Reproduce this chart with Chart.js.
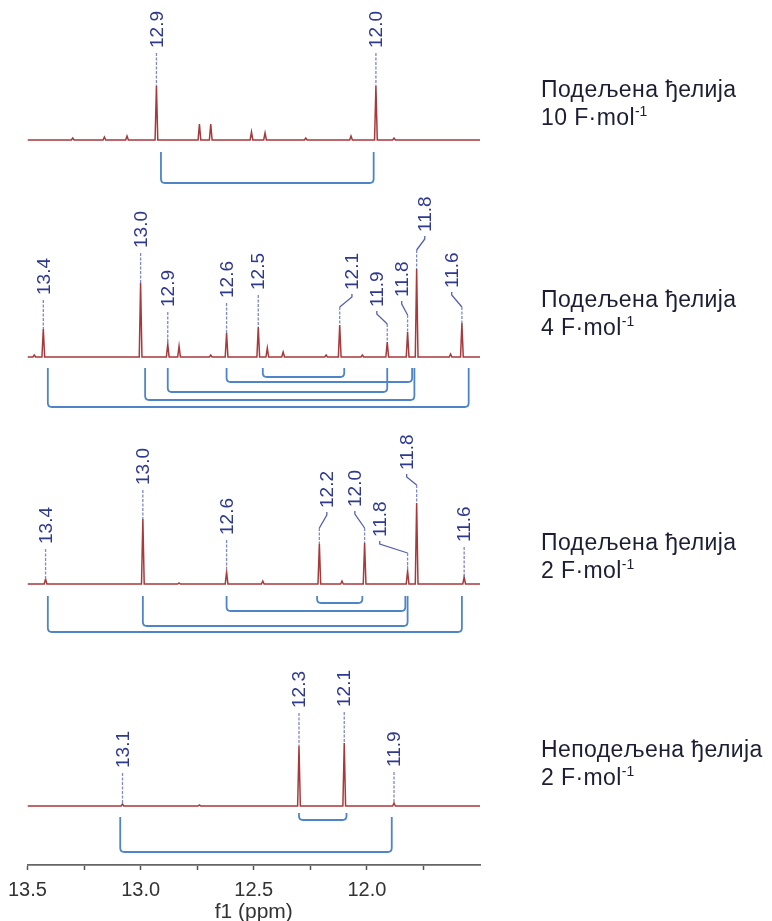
<!DOCTYPE html>
<html>
<head>
<meta charset="utf-8">
<script src="https://cdn.jsdelivr.net/npm/chart.js@4.4.0/dist/chart.umd.min.js"></script>
<style>
body { margin: 0; background: #fff; }
#wrap { position: relative; width: 772px; height: 921px; }
.cap { position: absolute; left: 541px; font: 23px 'Liberation Sans', Arial, sans-serif; letter-spacing: 0.4px; line-height: 28px; color: #1d1d33; white-space: nowrap; }
.cap sup { font-size: 14px; vertical-align: 9px; line-height: 0; letter-spacing: 0; }
</style>
</head>
<body>
<div id="wrap"><canvas id="nmr"></canvas></div>
<script>
// x axis (ppm)
const xTicks = [13.5, 13.25, 13.0, 12.75, 12.5, 12.25, 12.0, 11.75];
const xTickLabels = ['13.5', '', '13.0', '', '12.5', '', '12.0', ''];

// 10 F/mol, divided cell
const ppm10 = [13.30, 13.16, 13.06, 12.93, 12.74, 12.69, 12.51, 12.45, 12.27, 12.07, 11.96, 11.88];
const int10 = [2, 3, 4, 54, 16, 16, 8, 7, 2, 4, 54, 2];
const lbl10 = ['12.9', '12.0'];
const lblPpm10 = [12.93, 11.96];
const pairs10 = [[12.91, 11.97]];

// 4 F/mol, divided cell
const ppm4 = [13.47, 13.43, 13.00, 12.88, 12.83, 12.69, 12.62, 12.48, 12.44, 12.37, 12.18, 12.12, 12.02, 11.91, 11.82, 11.78, 11.63, 11.58];
const int4 = [2, 28, 74, 13, 11, 2, 24, 30, 9, 5, 2, 32, 2, 15, 25, 88, 3, 34];
const lbl4 = ['13.4', '13.0', '12.9', '12.6', '12.5', '12.1', '11.9', '11.8', '11.8', '11.6'];
const lblPpm4 = [13.43, 13.00, 12.88, 12.62, 12.48, 12.12, 11.91, 11.82, 11.78, 11.58];
const pairs4 = [[12.46, 12.10], [12.62, 11.80], [12.88, 11.91], [12.98, 11.79], [13.41, 11.55]];

// 2 F/mol, divided cell
const ppm2 = [13.42, 12.99, 12.83, 12.62, 12.46, 12.21, 12.11, 12.01, 11.82, 11.78, 11.57];
const int2 = [5, 65, 1, 12, 3, 40, 3, 41, 13, 81, 7];
const lbl2 = ['13.4', '13.0', '12.6', '12.2', '12.0', '11.8', '11.8', '11.6'];
const lblPpm2 = [13.42, 12.99, 12.62, 12.21, 12.01, 11.82, 11.78, 11.57];
const pairs2 = [[12.22, 12.02], [12.62, 11.83], [12.99, 11.82], [13.41, 11.58]];

// 2 F/mol, undivided cell
const ppmU = [13.08, 12.74, 12.30, 12.10, 11.88];
const intU = [2, 1, 60, 63, 3];
const lblU = ['13.1', '12.3', '12.1', '11.9'];
const lblPpmU = [13.08, 12.30, 12.10, 11.88];
const pairsU = [[12.30, 12.09], [13.09, 11.89]];

const captions = [
  ['Подељена ђелија', '10 F·mol'],
  ['Подељена ђелија', '4 F·mol'],
  ['Подељена ђелија', '2 F·mol'],
  ['Неподељена ђелија', '2 F·mol']
];

// layout: baselines, label placement [text ppm, lift, bend lift], bracket [gap, depth]
const baselines = [725, 508, 281, 59];
const capTops = [75, 285, 528, 735];
const labelPlace = [
  [[12.93, 92, null], [11.96, 92, null]],
  [[13.43, 62, null], [13.00, 109, null], [12.88, 50, null], [12.62, 59, null], [12.48, 67, null],
   [12.066, 67, 50], [11.956, 50, 33], [11.846, 60, 42], [11.744, 125, 107], [11.625, 69, 50]],
  [[13.42, 40, null], [12.99, 99, null], [12.62, 49, null], [12.177, 76, 56], [12.053, 77, 56],
   [11.943, 47, 31], [11.824, 114, 99], [11.57, 42, null]],
  [[13.08, 38, null], [12.30, 98, null], [12.10, 99, null], [11.88, 39, null]]
];
const bracketPlace = [
  [[12, 43]],
  [[11, 20], [11, 25], [11, 35], [11, 43], [11, 50]],
  [[12, 19], [12, 27], [12, 42], [12, 48]],
  [[7, 14], [11, 46]]
];

const spectra = [
  { ppm: ppm10, ints: int10, lbl: lbl10, lblPpm: lblPpm10, pairs: pairs10 },
  { ppm: ppm4, ints: int4, lbl: lbl4, lblPpm: lblPpm4, pairs: pairs4 },
  { ppm: ppm2, ints: int2, lbl: lbl2, lblPpm: lblPpm2, pairs: pairs2 },
  { ppm: ppmU, ints: intU, lbl: lblU, lblPpm: lblPpmU, pairs: pairsU }
];

// captions on the right
captions.forEach((c, i) => {
  const d = document.createElement('div');
  d.className = 'cap';
  d.style.top = capTops[i] + 'px';
  d.innerHTML = c[0] + '<br>' + c[1] + '<sup>-1</sup>';
  document.getElementById('wrap').appendChild(d);
});

function trace(s, base) {
  const idx = s.ppm.map((p, i) => i).sort((a, b) => s.ppm[b] - s.ppm[a]);
  const pts = [{ x: 13.5, y: base }];
  idx.forEach(i => {
    const p = s.ppm[i];
    pts.push({ x: p + 0.006, y: base });
    pts.push({ x: p, y: base + s.ints[i] });
    pts.push({ x: p - 0.006, y: base });
  });
  pts.push({ x: 11.5, y: base });
  return pts;
}

const peakLabels = {
  id: 'peakLabels',
  afterDatasetsDraw(chart) {
    const ctx = chart.ctx;
    const xs = chart.scales.x, ys = chart.scales.y;
    spectra.forEach((s, si) => {
      const base = baselines[si];
      // labels + leaders
      s.lbl.forEach((t, li) => {
        const [tp, lift, bend] = labelPlace[si][li];
        const pk = s.lblPpm[li];
        let k = 0;
        s.ppm.forEach((p, i) => { if (Math.abs(p - pk) < Math.abs(s.ppm[k] - pk)) k = i; });
        const px = xs.getPixelForValue(pk);
        const tx = xs.getPixelForValue(tp);
        const ty = ys.getPixelForValue(base + lift);
        const topY = ys.getPixelForValue(base + s.ints[k]);
        ctx.save();
        ctx.strokeStyle = '#7f87cf';
        ctx.lineWidth = 1.3;
        if (bend === null) {
          ctx.setLineDash([3, 1.5]);
          ctx.beginPath();
          ctx.moveTo(px, ty + 5);
          ctx.lineTo(px, topY);
          ctx.stroke();
        } else {
          const by = ys.getPixelForValue(base + bend);
          ctx.strokeStyle = '#5560b0';
          ctx.beginPath();
          ctx.moveTo(tx, ty + 4);
          ctx.lineTo(tx, ty + 7);
          ctx.lineTo(px, by);
          ctx.stroke();
          ctx.strokeStyle = '#7f87cf';
          ctx.setLineDash([3, 1.5]);
          ctx.beginPath();
          ctx.moveTo(px, by);
          ctx.lineTo(px, topY);
          ctx.stroke();
        }
        ctx.restore();
        ctx.save();
        ctx.translate(tx, ty);
        ctx.rotate(-Math.PI / 2);
        ctx.font = "19px 'Liberation Sans', Arial, sans-serif";
        ctx.fillStyle = '#2f3990';
        ctx.textAlign = 'left';
        ctx.textBaseline = 'middle';
        ctx.fillText(t, 0, 1);
        ctx.restore();
      });
      // coupling brackets
      s.pairs.forEach((pr, bi) => {
        const [gap, depth] = bracketPlace[si][bi];
        const x1 = Math.min(xs.getPixelForValue(pr[0]), xs.getPixelForValue(pr[1]));
        const x2 = Math.max(xs.getPixelForValue(pr[0]), xs.getPixelForValue(pr[1]));
        const y1 = ys.getPixelForValue(base - gap);
        const y2 = ys.getPixelForValue(base - depth);
        const r = 4;
        ctx.save();
        ctx.strokeStyle = '#4d85c8';
        ctx.lineWidth = 1.8;
        ctx.beginPath();
        ctx.moveTo(x1, y1);
        ctx.lineTo(x1, y2 - r);
        ctx.quadraticCurveTo(x1, y2, x1 + r, y2);
        ctx.lineTo(x2 - r, y2);
        ctx.quadraticCurveTo(x2, y2, x2, y2 - r);
        ctx.lineTo(x2, y1);
        ctx.stroke();
        ctx.restore();
      });
    });
  }
};

new Chart(document.getElementById('nmr'), {
  type: 'line',
  data: {
    datasets: spectra.map((s, i) => ({
      data: trace(s, baselines[i]),
      borderColor: '#a8393b',
      borderWidth: 1.5,
      pointRadius: 0,
      tension: 0,
      fill: false
    }))
  },
  options: {
    responsive: true,
    maintainAspectRatio: false,
    animation: false,
    layout: { padding: { left: 27, right: 292, top: 0, bottom: 0 } },
    plugins: { legend: { display: false }, tooltip: { enabled: false } },
    scales: {
      x: {
        type: 'linear',
        min: 11.5,
        max: 13.5,
        reverse: true,
        afterBuildTicks(axis) { axis.ticks = xTicks.map(v => ({ value: v })); },
        afterFit(axis) { axis.height = 56; },
        grid: { drawOnChartArea: false, drawTicks: true, tickLength: 5, tickColor: '#555', tickWidth: 1.5 },
        border: { color: '#666', width: 1.8 },
        ticks: {
          autoSkip: false,
          maxRotation: 0,
          padding: 8,
          color: '#333',
          font: { family: "'Liberation Sans', Arial, sans-serif", size: 20 },
          callback: (v) => {
            const i = xTicks.findIndex(t => Math.abs(t - v) < 1e-6);
            return i >= 0 ? xTickLabels[i] : '';
          }
        },
        title: {
          display: true,
          text: 'f1 (ppm)',
          color: '#333',
          padding: { top: 0, bottom: -2 },
          font: { family: "'Liberation Sans', Arial, sans-serif", size: 21, lineHeight: 1.0 }
        }
      },
      y: { display: false, min: 0, max: 865 }
    }
  },
  plugins: [peakLabels]
});
</script>
</body>
</html>
